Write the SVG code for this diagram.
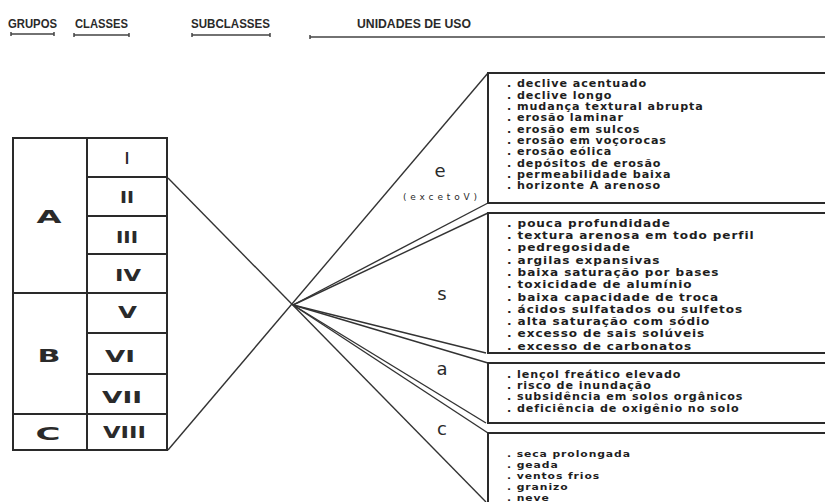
<svg xmlns="http://www.w3.org/2000/svg" width="825" height="502" viewBox="0 0 825 502">
<style>
  .hdr { font-family: "Liberation Sans", Arial, sans-serif; font-weight: bold; font-size: 12px; fill: #2a2a2a; }
  .rule { stroke: #444; stroke-width: 1.5; fill: none; }
  .cell { fill: none; stroke: #2a2a2a; stroke-width: 2; }
  .grp { font-family: "DejaVu Sans", sans-serif; font-weight: bold; font-size: 18px; fill: #2a2a2a; text-anchor: middle; }
  .cls { font-family: "DejaVu Sans", sans-serif; font-weight: bold; font-size: 16px; fill: #2a2a2a; }
  .sub { font-family: "DejaVu Sans", sans-serif; font-size: 18px; fill: #2a2a2a; text-anchor: middle; }
  .small { font-family: "DejaVu Sans", sans-serif; font-size: 9px; fill: #2a2a2a; }
  .box { fill: none; stroke: #2a2a2a; stroke-width: 2; }
  .item { font-family: "DejaVu Sans", sans-serif; font-weight: bold; font-size: 9.7px; letter-spacing: 0.8px; fill: #1e1e1e; }
  .s-item { font-size: 10.5px; }
  .c-item { font-size: 9.4px; }
  .conn { stroke: #333; stroke-width: 1.4; fill: none; }
</style>

<g id="headers">
  <text class="hdr" x="8" y="27.5" textLength="49" lengthAdjust="spacingAndGlyphs">GRUPOS</text>
  <text class="hdr" x="75" y="27.5" textLength="53" lengthAdjust="spacingAndGlyphs">CLASSES</text>
  <text class="hdr" x="191" y="27.5" textLength="79" lengthAdjust="spacingAndGlyphs">SUBCLASSES</text>
  <text class="hdr" x="357" y="27.5" textLength="114" lengthAdjust="spacingAndGlyphs">UNIDADES DE USO</text>
  <path class="rule" d="M11 34 H54 M11 32 V36 M54 32 V36"/>
  <path class="rule" d="M74 35 H129 M74 33 V37 M129 33 V37"/>
  <path class="rule" d="M192 35 H270 M192 33 V37 M270 33 V37"/>
  <path class="rule" d="M310 37 H825 M310 35 V39"/>
</g>

<g id="group-A">
  <rect class="cell" x="13" y="138" width="74" height="155"/>
  <text class="grp" x="49" y="222.5" textLength="25" lengthAdjust="spacingAndGlyphs">A</text>
</g>
<g id="group-B">
  <rect class="cell" x="13" y="293" width="74" height="121"/>
  <text class="grp" x="49" y="361.5" textLength="23" lengthAdjust="spacingAndGlyphs">B</text>
</g>
<g id="group-C">
  <rect class="cell" x="13" y="414" width="74" height="36"/>
  <text class="grp" x="48" y="439.5" textLength="25" lengthAdjust="spacingAndGlyphs">C</text>
</g>

<g id="class-I">
  <rect class="cell" x="87" y="138" width="80" height="39"/>
  <text class="cls" x="125" y="164" textLength="4" lengthAdjust="spacingAndGlyphs">I</text>
</g>
<g id="class-II">
  <rect class="cell" x="87" y="177" width="80" height="39"/>
  <text class="cls" x="120" y="203" textLength="14" lengthAdjust="spacingAndGlyphs">II</text>
</g>
<g id="class-III">
  <rect class="cell" x="87" y="216" width="80" height="38"/>
  <text class="cls" x="116" y="243" textLength="22" lengthAdjust="spacingAndGlyphs">III</text>
</g>
<g id="class-IV">
  <rect class="cell" x="87" y="254" width="80" height="39"/>
  <text class="cls" x="115" y="281" textLength="26" lengthAdjust="spacingAndGlyphs">IV</text>
</g>
<g id="class-V">
  <rect class="cell" x="87" y="293" width="80" height="40"/>
  <text class="cls" x="118" y="318" textLength="19" lengthAdjust="spacingAndGlyphs">V</text>
</g>
<g id="class-VI">
  <rect class="cell" x="87" y="333" width="80" height="41"/>
  <text class="cls" x="105" y="362" textLength="30" lengthAdjust="spacingAndGlyphs">VI</text>
</g>
<g id="class-VII">
  <rect class="cell" x="87" y="374" width="80" height="40"/>
  <text class="cls" x="102" y="403" textLength="40" lengthAdjust="spacingAndGlyphs">VII</text>
</g>
<g id="class-VIII">
  <rect class="cell" x="87" y="414" width="80" height="36"/>
  <text class="cls" x="103" y="438" textLength="43" lengthAdjust="spacingAndGlyphs">VIII</text>
</g>

<g id="connectors">
  <line class="conn" x1="168" y1="450" x2="488" y2="73"/>
  <line class="conn" x1="168" y1="178" x2="486" y2="502"/>
  <line class="conn" x1="293" y1="305" x2="488" y2="203"/>
  <line class="conn" x1="293" y1="305" x2="488" y2="213"/>
  <line class="conn" x1="293" y1="305" x2="486" y2="353"/>
  <line class="conn" x1="293" y1="305" x2="488" y2="363"/>
  <line class="conn" x1="293" y1="305" x2="486" y2="423"/>
  <line class="conn" x1="293" y1="305" x2="488" y2="433"/>
</g>

<g id="subclass-e">
  <text class="sub" x="440" y="176.7">e</text>
  <text class="small" x="403" y="200" textLength="74" lengthAdjust="spacing">(excetoV)</text>
  <path class="box" d="M826 73 H488 V203 H826"/>
  <g transform="translate(507 0) scale(1.15 1)">
    <text class="item" x="0" y="87.5">. declive acentuado</text>
    <text class="item" x="0" y="98.8">. declive longo</text>
    <text class="item" x="0" y="110.2">. mudança textural abrupta</text>
    <text class="item" x="0" y="121.5">. erosão laminar</text>
    <text class="item" x="0" y="132.8">. erosão em sulcos</text>
    <text class="item" x="0" y="144.2">. erosão em voçorocas</text>
    <text class="item" x="0" y="155.5">. erosão eólica</text>
    <text class="item" x="0" y="166.8">. depósitos de erosão</text>
    <text class="item" x="0" y="178.2">. permeabilidade baixa</text>
    <text class="item" x="0" y="189.5">. horizonte A arenoso</text>
  </g>
</g>

<g id="subclass-s">
  <text class="sub" x="442" y="300">s</text>
  <path class="box" d="M826 213 H488 V353 H826"/>
  <g transform="translate(507 0) scale(1.15 1)">
    <text class="item s-item" x="0" y="227">. pouca profundidade</text>
    <text class="item s-item" x="0" y="239.3">. textura arenosa em todo perfil</text>
    <text class="item s-item" x="0" y="251.5">. pedregosidade</text>
    <text class="item s-item" x="0" y="263.8">. argilas expansivas</text>
    <text class="item s-item" x="0" y="276.1">. baixa saturação por bases</text>
    <text class="item s-item" x="0" y="288.4">. toxicidade de alumínio</text>
    <text class="item s-item" x="0" y="300.6">. baixa capacidade de troca</text>
    <text class="item s-item" x="0" y="312.9">. ácidos sulfatados ou sulfetos</text>
    <text class="item s-item" x="0" y="325.2">. alta saturação com sódio</text>
    <text class="item s-item" x="0" y="337.4">. excesso de sais solúveis</text>
    <text class="item s-item" x="0" y="349.7">. excesso de carbonatos</text>
  </g>
</g>

<g id="subclass-a">
  <text class="sub" x="442" y="375">a</text>
  <path class="box" d="M826 363 H488 V423 H826"/>
  <g transform="translate(507 0) scale(1.15 1)">
    <text class="item" x="0" y="377.8">. lençol freático elevado</text>
    <text class="item" x="0" y="389.1">. risco de inundação</text>
    <text class="item" x="0" y="400.4">. subsidência em solos orgânicos</text>
    <text class="item" x="0" y="411.7">. deficiência de oxigênio no solo</text>
  </g>
</g>

<g id="subclass-c">
  <text class="sub" x="442" y="435">c</text>
  <path class="box" d="M826 433 H488 V503"/>
  <g transform="translate(507 0) scale(1.15 1)">
    <text class="item c-item" x="0" y="457.5">. seca prolongada</text>
    <text class="item c-item" x="0" y="468.5">. geada</text>
    <text class="item c-item" x="0" y="479.5">. ventos frios</text>
    <text class="item c-item" x="0" y="490.5">. granizo</text>
    <text class="item c-item" x="0" y="501.5">. neve</text>
  </g>
</g>
</svg>
